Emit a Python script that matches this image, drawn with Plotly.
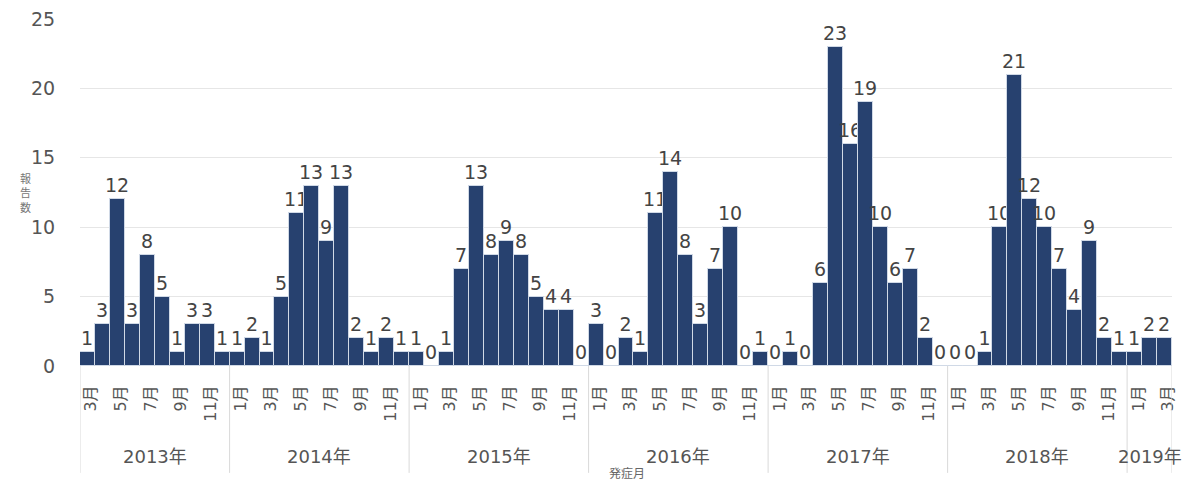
import plotly.graph_objects as go

# ---- data ----
years = ["2013年", "2014年", "2015年", "2016年", "2017年", "2018年", "2019年"]
first_months = [3, 1, 1, 1, 1, 1, 1]
v2013 = [1, 3, 12, 3, 8, 5, 1, 3, 3, 1]
v2014 = [1, 2, 1, 5, 11, 13, 9, 13, 2, 1, 2, 1]
v2015 = [1, 0, 1, 7, 13, 8, 9, 8, 5, 4, 4, 0]
v2016 = [3, 0, 2, 1, 11, 14, 8, 3, 7, 10, 0, 1]
v2017 = [0, 1, 0, 6, 23, 16, 19, 10, 6, 7, 2, 0]
v2018 = [0, 0, 1, 10, 21, 12, 10, 7, 4, 9, 2, 1]
v2019 = [1, 2, 2]
series = [v2013, v2014, v2015, v2016, v2017, v2018, v2019]
y_ticks = [0, 5, 10, 15, 20, 25]
y_title = "報告数"
x_title = "発症月"

# ---- build positions ----
xs, ys, tickvals, ticktext = [], [], [], []
boundaries = [-0.5]
year_centers = []
i = 0
for yr, fm, vals in zip(years, first_months, series):
    start = i
    for k, v in enumerate(vals):
        m = fm + k
        xs.append(i)
        ys.append(v)
        if m % 2 == 1:
            tickvals.append(i + 0.25)
            ticktext.append(f"{m}月")
        i += 1
    boundaries.append(i - 0.5)
    year_centers.append((start - 0.5 + i - 0.5) / 2)

FONT = "DejaVu Sans, Noto Sans CJK JP, sans-serif"

fig = go.Figure(go.Bar(
    x=xs, y=ys, width=1,
    marker=dict(color="#27416F", line=dict(color="#d0d9e6", width=1)),
    text=[str(v) for v in ys], textposition="outside", textangle=0,
    constraintext="none", cliponaxis=False,
    textfont=dict(family=FONT, size=19, color="#444444"),
    hoverinfo="x+y",
))

annotations = []
for yr, c in zip(years, year_centers):
    annotations.append(dict(x=c, y=-0.262, xref="x", yref="paper", text=yr,
                            showarrow=False, yanchor="middle",
                            font=dict(family=FONT, size=18, color="#555555")))
annotations.append(dict(x=-0.0572, y=0.50, xref="paper", yref="paper",
                        text="<br>".join(y_title), showarrow=False, yanchor="middle",
                        font=dict(family="Noto Sans CJK JP", size=11, color="#777777")))
annotations.append(dict(x=0.501, y=-0.308, xref="paper", yref="paper",
                        text=x_title, showarrow=False, yanchor="middle",
                        font=dict(family="Noto Sans CJK JP", size=12, color="#666666")))

shapes = [dict(type="line", xref="x", yref="paper", x0=b, x1=b, y0=0, y1=-0.308,
               line=dict(color="#d9d9d9", width=1)) for b in boundaries]

fig.update_layout(
    width=1197, height=484,
    margin=dict(l=80, r=25, t=19, b=118, autoexpand=False),
    plot_bgcolor="white", paper_bgcolor="white",
    bargap=0, showlegend=False,
    annotations=annotations, shapes=shapes,
    xaxis=dict(range=[-0.5, len(xs) - 0.5], tickmode="array", automargin=False,
               tickvals=tickvals, ticktext=ticktext, tickangle=-90,
               ticks="outside", ticklen=12, tickcolor="rgba(0,0,0,0)",
               tickfont=dict(family=FONT, size=16, color="#555555"),
               showgrid=False, zeroline=False, showline=False),
    yaxis=dict(range=[0, 25], tickvals=y_ticks, showgrid=True, automargin=False,
               gridcolor="#e6e6e6", gridwidth=1, zeroline=False,
               ticks="outside", ticklen=20, tickcolor="rgba(0,0,0,0)",
               tickfont=dict(family=FONT, size=19, color="#555555")),
)

fig.write_html("out.html", config={"displayModeBar": False},
               post_script="document.body.style.margin='0';document.body.style.padding='0';")
